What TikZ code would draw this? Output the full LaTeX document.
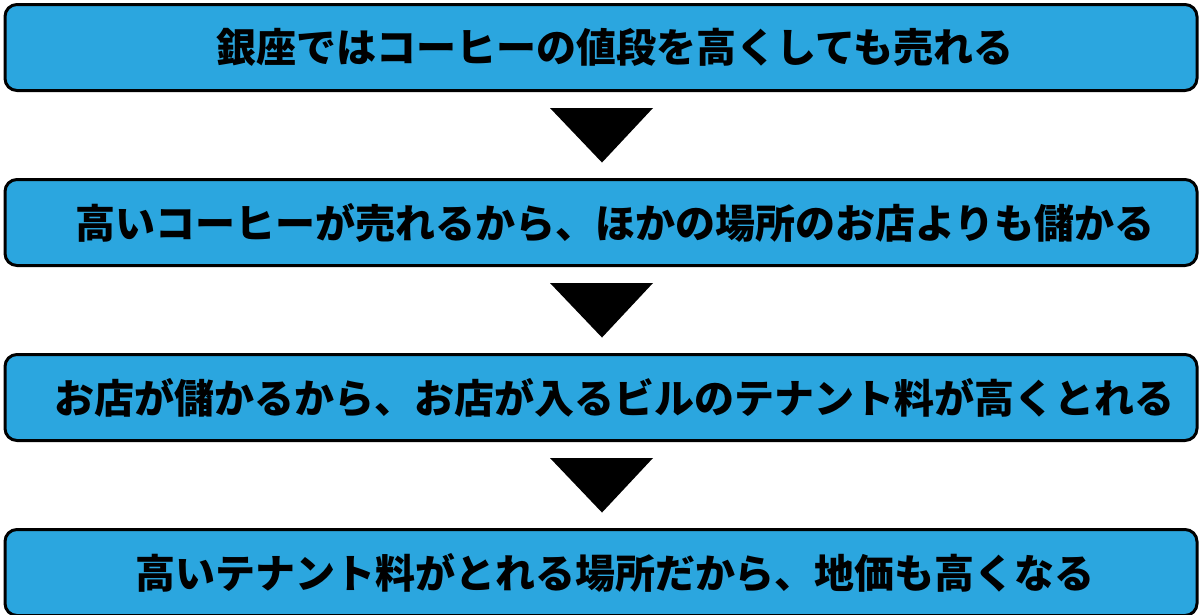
\documentclass[tikz,border=0pt]{standalone}
\usepackage{fontspec}
\setmainfont{Noto Sans CJK JP}
\usepackage{tikz}
\usetikzlibrary{positioning,calc}
\definecolor{boxblue}{HTML}{2BA6DF}
\tikzstyle{stepbox}=[draw=black, fill=boxblue, line width=3pt,
                    rounded corners=12pt, minimum width=1192pt,
                    minimum height=86pt, inner sep=0pt,
                    font=\fontsize{40pt}{44pt}\selectfont\bfseries,
                    execute at begin node=\hspace*{28pt}]
\tikzstyle{arrowhead}=[fill=black]

\begin{document}
\begin{tikzpicture}[x=1pt, y=1pt, node distance=86pt]
    \useasboundingbox (0,0) rectangle (1200,-614);
    \node[stepbox] (s1) at (601,-47.5) {銀座ではコーヒーの値段を高くしても売れる};
    \node[stepbox, below=of s1] (s2) {高いコーヒーが売れるから、ほかの場所のお店よりも儲かる};
    \node[stepbox, below=of s2] (s3) {お店が儲かるから、お店が入るビルのテナント料が高くとれる};
    \node[stepbox, below=of s3] (s4) {高いテナント料がとれる場所だから、地価も高くなる};

    \foreach \a/\b in {s1/s2,s2/s3,s3/s4}{
        \fill[arrowhead] ($(\a.south)+(-51,-16)$) -- ($(\a.south)+(52,-16)$)
            -- ($(\a.south)!0.82!(\b.north)+(1,0)$) -- cycle;
    }
\end{tikzpicture}
\end{document}
